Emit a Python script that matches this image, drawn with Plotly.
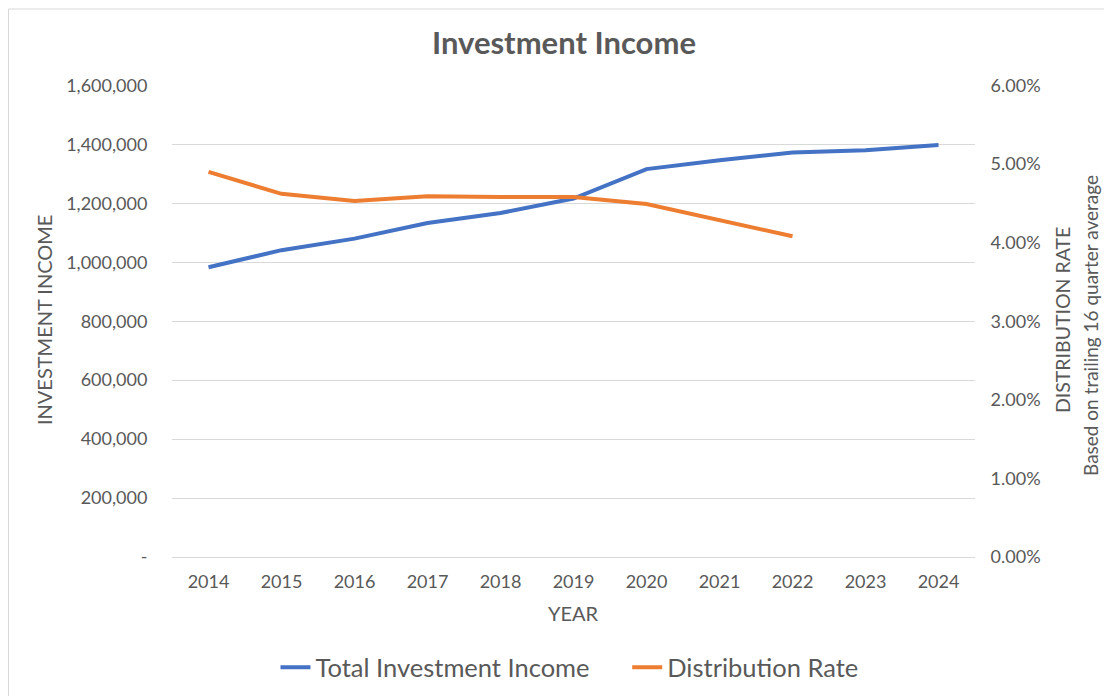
import plotly.graph_objects as go

years = [2014, 2015, 2016, 2017, 2018, 2019, 2020, 2021, 2022, 2023, 2024]
income = [983000, 1041000, 1080000, 1133000, 1167000, 1216000, 1316000, 1346000, 1372000, 1380000, 1398000]
dist_years = [2014, 2015, 2016, 2017, 2018, 2019, 2020, 2021, 2022]
dist_rate = [0.0490, 0.0462, 0.0453, 0.0459, 0.0458, 0.0458, 0.0449, 0.0428, 0.0408]

left_ticks = [0, 200000, 400000, 600000, 800000, 1000000, 1200000, 1400000, 1600000]
left_labels = ["-", "200,000", "400,000", "600,000", "800,000", "1,000,000", "1,200,000", "1,400,000", "1,600,000"]
right_ticks = [0, 0.01, 0.02, 0.03, 0.04, 0.05, 0.06]

FONT = "Lato, 'Open Sans', sans-serif"
GRAY = "#595959"
EXT = 1.0008

fig = go.Figure()
fig.add_trace(go.Scatter(x=years, y=income, mode="lines",
                         name="Total Investment Income&nbsp;&nbsp;&nbsp;&nbsp;&nbsp;",
                         line=dict(color="#4472C4", width=4)))
fig.add_trace(go.Scatter(x=dist_years, y=dist_rate, mode="lines", name="Distribution Rate",
                         line=dict(color="#ED7D31", width=4), yaxis="y2"))

fig.update_layout(
    width=1104, height=688,
    margin=dict(l=164, r=137, t=77, b=139, autoexpand=False),
    paper_bgcolor="white", plot_bgcolor="white",
    font=dict(family=FONT, color=GRAY, size=18),
    title=dict(text="<b>Investment Income</b>", x=0.5036, xanchor="center", y=0.949, yanchor="middle",
               font=dict(size=31, color=GRAY, family=FONT)),
    xaxis=dict(tickmode="array", tickvals=years, ticktext=[str(y) for y in years],
               range=[2013.5, 2024.5], showgrid=False, zeroline=False, showline=False,
               ticks="outside", ticklen=8, tickcolor="rgba(0,0,0,0)", tickfont=dict(size=18, color=GRAY)),
    yaxis=dict(range=[0, 1600000 * EXT], tickmode="array", tickvals=left_ticks, ticktext=left_labels,
               showgrid=True, gridcolor="#d9d9d9", gridwidth=1, zeroline=True, zerolinecolor="#d9d9d9",
               zerolinewidth=1, showline=False,
               ticks="outside", ticklen=20, tickcolor="rgba(0,0,0,0)", tickfont=dict(size=18, color=GRAY)),
    yaxis2=dict(range=[0, 0.06 * EXT], overlaying="y", side="right", tickmode="array", tickvals=right_ticks,
                tickformat=".2%", showgrid=False, zeroline=False, showline=False,
                ticks="outside", ticklen=11, tickcolor="rgba(0,0,0,0)", tickfont=dict(size=18, color=GRAY)),
    legend=dict(orientation="h", x=0.495, xanchor="center", y=-0.2345, yanchor="middle",
                font=dict(size=25.5, color=GRAY), itemwidth=30),
    showlegend=True,
)

fig.add_annotation(text="INVESTMENT INCOME", xref="paper", yref="paper", x=-0.1594, y=0.502,
                   textangle=-90, showarrow=False, font=dict(size=20, color=GRAY, family=FONT),
                   xanchor="center", yanchor="middle")
fig.add_annotation(text="YEAR", xref="paper", yref="paper", x=0.5, y=-0.1186,
                   showarrow=False, font=dict(size=20, color=GRAY, family=FONT),
                   xanchor="center", yanchor="middle")
fig.add_annotation(text="DISTRIBUTION RATE", xref="paper", yref="paper", x=1.1083, y=0.502,
                   textangle=-90, showarrow=False, font=dict(size=19.5, color=GRAY, family=FONT),
                   xanchor="center", yanchor="middle")
fig.add_annotation(text="Based on trailing 16 quarter average", xref="paper", yref="paper", x=1.1432, y=0.4915,
                   textangle=-90, showarrow=False, font=dict(size=19, color=GRAY, family=FONT),
                   xanchor="center", yanchor="middle")

fig.add_shape(type="rect", xref="paper", yref="paper", x0=-0.2036, x1=1.25, y0=-0.32, y1=1.161,
              line=dict(color="#d9d9d9", width=1), fillcolor="rgba(0,0,0,0)", layer="below")

fig.write_html("out.html")
